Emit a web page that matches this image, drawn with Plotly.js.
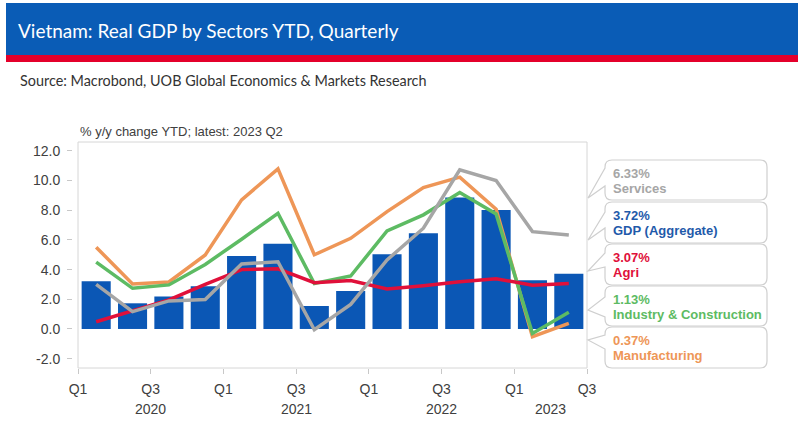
<!DOCTYPE html>
<html>
<head>
<meta charset="utf-8">
<script src="https://cdn.plot.ly/plotly-3.0.1.min.js"></script>
<style>html,body{margin:0;padding:0;background:#fff;}#chart{width:800px;height:439px;}</style>
</head>
<body>
<div id="chart"></div>
<script>
// ---- data ----
const quarters = ['2020 Q1','2020 Q2','2020 Q3','2020 Q4','2021 Q1','2021 Q2','2021 Q3','2021 Q4','2022 Q1','2022 Q2','2022 Q3','2022 Q4','2023 Q1','2023 Q2'];
const gdp           = [3.21, 1.73, 2.18, 2.88, 4.92, 5.75, 1.55, 2.56, 5.03, 6.45, 8.86, 8.02, 3.28, 3.72];
const manufacturing = [5.51, 3.03, 3.17, 4.99, 8.70, 10.79, 5.00, 6.11, 7.91, 9.53, 10.23, 8.07, -0.52, 0.37];
const industry      = [4.50, 2.74, 2.97, 4.35, 6.05, 7.80, 3.06, 3.57, 6.61, 7.69, 9.19, 7.75, -0.30, 1.13];
const agri          = [0.49, 1.25, 1.96, 3.00, 4.00, 4.05, 3.12, 3.26, 2.70, 2.92, 3.19, 3.39, 2.95, 3.07];
const services      = [3.01, 1.17, 1.89, 1.98, 4.38, 4.53, -0.05, 1.66, 4.65, 6.79, 10.72, 10.00, 6.56, 6.33];
const xTickLabels = ['Q1','Q3','Q1','Q3','Q1','Q3','Q1','Q3'];
const years = ['2020','2021','2022','2023'];
const yTickVals = [-2, 0, 2, 4, 6, 8, 10, 12];
const yTickLabels = ['-2.0','0.0','2.0','4.0','6.0','8.0','10.0','12.0'];
const seriesNames = ['Services','GDP (Aggregate)','Agri','Industry & Construction','Manufacturing'];

// ---- layout helpers (pixel -> paper) ----
const L = 72, R = 587, T = 142, B = 368;
const PX = p => (p - L) / (R - L);
const PY = p => (B - p) / (B - T);

const xpos = quarters.map((q, i) => i + 0.5);
const xTickVals = xTickLabels.map((t, i) => i * 2);
const yearPos = [2, 6, 10, 13];

const C = {bar:'#0B57B5', manu:'#EE9657', ind:'#5DBB63', agri:'#E0103A', serv:'#A6A6A6', gdpTxt:'#1F5AAA'};

const traces = [
  {type:'bar', x:xpos, y:gdp, width:0.8, marker:{color:C.bar}, name:seriesNames[1], hoverinfo:'skip'},
  {type:'scatter', mode:'lines', x:xpos, y:manufacturing, line:{color:C.manu, width:3.5}, name:seriesNames[4]},
  {type:'scatter', mode:'lines', x:xpos, y:industry, line:{color:C.ind, width:3.5}, name:seriesNames[3]},
  {type:'scatter', mode:'lines', x:xpos, y:agri, line:{color:C.agri, width:3.5}, name:seriesNames[2]},
  {type:'scatter', mode:'lines', x:xpos, y:services, line:{color:C.serv, width:3.5}, name:seriesNames[0]}
];

// callout boxes
const boxes = [
  {top:160, bot:200, b1:168, b2:186, tip:198, color:C.serv,  val:services[13], name:seriesNames[0]},
  {top:202, bot:243, b1:212, b2:228, tip:240, color:C.gdpTxt,val:gdp[13],      name:seriesNames[1]},
  {top:244, bot:285, b1:253, b2:267, tip:271, color:C.agri,  val:agri[13],     name:seriesNames[2]},
  {top:286, bot:326, b1:297, b2:317, tip:310, color:C.ind,   val:industry[13], name:seriesNames[3]},
  {top:327, bot:368, b1:335, b2:349, tip:340, color:C.manu,  val:manufacturing[13], name:seriesNames[4]}
];
const bx0 = 605, bx1 = 767, rr = 7, tipX = 588;
function P(x, y){ return PX(x).toFixed(5) + ',' + PY(y).toFixed(5); }

const shapes = [
  {type:'rect', xref:'paper', yref:'paper', x0:PX(6), x1:PX(798), y0:PY(55), y1:PY(3), fillcolor:'#0A5CB6', line:{width:0}, layer:'below'},
  {type:'rect', xref:'paper', yref:'paper', x0:PX(6), x1:PX(798), y0:PY(62), y1:PY(55), fillcolor:'#E4002B', line:{width:0}, layer:'below'},
  {type:'rect', xref:'paper', yref:'paper', x0:PX(78), x1:1, y0:0, y1:1, line:{color:'#D6D6D6', width:1}, layer:'below'}
];
const annotations = [];
boxes.forEach(b => {
  const path = 'M' + P(bx0 + rr, b.top) + ' L' + P(bx1 - rr, b.top) + ' Q' + P(bx1, b.top) + ' ' + P(bx1, b.top + rr) +
    ' L' + P(bx1, b.bot - rr) + ' Q' + P(bx1, b.bot) + ' ' + P(bx1 - rr, b.bot) +
    ' L' + P(bx0 + rr, b.bot) + ' Q' + P(bx0, b.bot) + ' ' + P(bx0, b.bot - rr) +
    ' L' + P(bx0, b.b2) + ' L' + P(tipX, b.tip) + ' L' + P(bx0, b.b1) +
    ' L' + P(bx0, b.top + rr) + ' Q' + P(bx0, b.top) + ' ' + P(bx0 + rr, b.top) + ' Z';
  shapes.push({type:'path', xref:'paper', yref:'paper', path:path, fillcolor:'#FFFFFF', line:{color:'#CFCFCF', width:1.2}});
  annotations.push({xref:'paper', yref:'paper', x:PX(611), y:PY(b.top + 13), xanchor:'left', yanchor:'middle', showarrow:false,
    text:'<b>' + b.val.toFixed(2) + '%</b>', font:{family:'Arial, Liberation Sans', size:13, color:b.color}});
  annotations.push({xref:'paper', yref:'paper', x:PX(611), y:PY(b.top + 28), xanchor:'left', yanchor:'middle', showarrow:false,
    text:'<b>' + b.name.replace('&','&amp;') + '</b>', font:{family:'Arial, Liberation Sans', size:13, color:b.color}});
});

years.forEach((yr, i) => {
  annotations.push({xref:'x', yref:'paper', x:yearPos[i], y:PY(409), xanchor:'center', yanchor:'middle', showarrow:false,
    text:yr, font:{family:'Arial, Liberation Sans', size:14, color:'#404040'}});
});
annotations.push({xref:'paper', yref:'paper', x:PX(78), y:PY(131), xanchor:'left', yanchor:'middle', showarrow:false,
  text:'% y/y change YTD; latest: 2023 Q2', font:{family:'Arial, Liberation Sans', size:13, color:'#404040'}});
annotations.push({xref:'paper', yref:'paper', x:PX(18), y:PY(81), xanchor:'left', yanchor:'middle', showarrow:false,
  text:'Source: Macrobond, UOB Global Economics &amp; Markets Research', font:{family:'Lato, Open Sans', size:14.4, color:'#333333'}});

const layout = {
  width:800, height:439, autosize:false,
  margin:{l:L, r:800 - R, t:T, b:439 - B, pad:0},
  paper_bgcolor:'#FFFFFF', plot_bgcolor:'rgba(0,0,0,0)',
  showlegend:false,
  title:{text:'Vietnam: Real GDP by Sectors YTD, Quarterly', xref:'container', yref:'container', x:18/800, xanchor:'left', y:1 - 31/439, yanchor:'middle',
    font:{family:'Lato, Open Sans', size:19, color:'#FFFFFF'}},
  xaxis:{domain:[PX(78), 1], range:[0, 14], tickmode:'array', tickvals:xTickVals, ticktext:xTickLabels,
    ticks:'outside', ticklen:5, tickcolor:'#C8C8C8', showline:false, showgrid:false, zeroline:false,
    ticklabelstandoff:3, tickfont:{family:'Arial, Liberation Sans', size:14, color:'#404040'}},
  yaxis:{range:[-2.63, 12.6], tickmode:'array', tickvals:yTickVals, ticktext:yTickLabels, anchor:'free', position:0,
    ticks:'outside', ticklen:5, tickcolor:'#C8C8C8', showline:false, showgrid:false, zeroline:false,
    ticklabelstandoff:4, tickfont:{family:'Arial, Liberation Sans', size:14, color:'#404040'}},
  shapes:shapes, annotations:annotations
};

Plotly.newPlot('chart', traces, layout, {staticPlot:true, displayModeBar:false});
</script>
</body>
</html>
